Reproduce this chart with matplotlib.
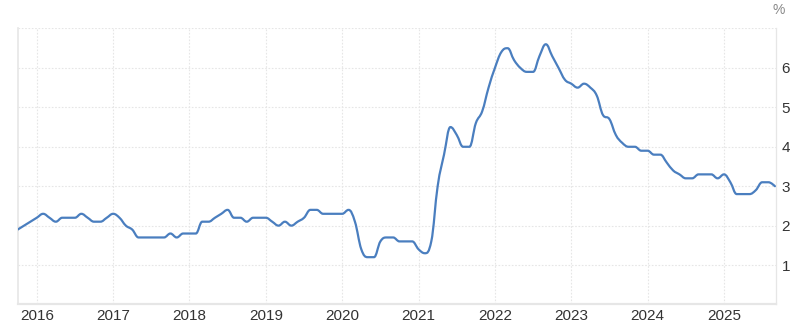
import matplotlib
matplotlib.use("Agg")
import matplotlib.pyplot as plt
from matplotlib.path import Path
from matplotlib.patches import PathPatch
import numpy as np

# Monthly values, Oct 2015 .. Sep 2025 (%)
start_year = 2015
start_month = 10
values = [
    1.9, 2.0, 2.1,                                              # 2015 Oct-Dec
    2.2, 2.3, 2.2, 2.1, 2.2, 2.2, 2.2, 2.3, 2.2, 2.1, 2.1, 2.2,  # 2016
    2.3, 2.2, 2.0, 1.9, 1.7, 1.7, 1.7, 1.7, 1.7, 1.8, 1.7, 1.8,  # 2017
    1.8, 1.8, 2.1, 2.1, 2.2, 2.3, 2.4, 2.2, 2.2, 2.1, 2.2, 2.2,  # 2018
    2.2, 2.1, 2.0, 2.1, 2.0, 2.1, 2.2, 2.4, 2.4, 2.3, 2.3, 2.3,  # 2019
    2.3, 2.4, 2.1, 1.4, 1.2, 1.2, 1.6, 1.7, 1.7, 1.6, 1.6, 1.6,  # 2020
    1.4, 1.3, 1.6, 3.0, 3.8, 4.5, 4.3, 4.0, 4.0, 4.6, 4.9, 5.5,  # 2021
    6.0, 6.4, 6.5, 6.2, 6.0, 5.9, 5.9, 6.3, 6.6, 6.3, 6.0, 5.7,  # 2022
    5.6, 5.5, 5.6, 5.5, 5.3, 4.8, 4.7, 4.3, 4.1, 4.0, 4.0, 3.9,  # 2023
    3.9, 3.8, 3.8, 3.6, 3.4, 3.3, 3.2, 3.2, 3.3, 3.3, 3.3, 3.2,  # 2024
    3.3, 3.1, 2.8, 2.8, 2.8, 2.9, 3.1, 3.1, 3.0,                 # 2025 Jan-Sep
]
year_ticks = [2016, 2017, 2018, 2019, 2020, 2021, 2022, 2023, 2024, 2025]
y_ticks = [1, 2, 3, 4, 5, 6]
unit_label = "%"

x = np.array([start_year + (start_month - 1 + i) / 12.0 for i in range(len(values))])
y = np.array(values, dtype=float)


def spline_path(xs, ys, smoothing=1.5):
    """Highcharts-style spline as cubic Bezier path in data coordinates."""
    n = len(xs)
    denom = smoothing + 1
    left = [(xs[i], ys[i]) for i in range(n)]
    right = [(xs[i], ys[i]) for i in range(n)]
    for i in range(1, n - 1):
        lx, ly = xs[i - 1], ys[i - 1]
        px, py = xs[i], ys[i]
        nx, ny = xs[i + 1], ys[i + 1]
        lcx = (smoothing * px + lx) / denom
        lcy = (smoothing * py + ly) / denom
        rcx = (smoothing * px + nx) / denom
        rcy = (smoothing * py + ny) / denom
        corr = 0.0
        if rcx != lcx:
            corr = (rcy - lcy) * (rcx - px) / (rcx - lcx) + py - rcy
        lcy += corr
        rcy += corr
        if lcy > ly and lcy > py:
            lcy = max(ly, py)
            rcy = 2 * py - lcy
        elif lcy < ly and lcy < py:
            lcy = min(ly, py)
            rcy = 2 * py - lcy
        if rcy > ny and rcy > py:
            rcy = max(ny, py)
            lcy = 2 * py - rcy
        elif rcy < ny and rcy < py:
            rcy = min(ny, py)
            lcy = 2 * py - rcy
        left[i] = (lcx, lcy)
        right[i] = (rcx, rcy)
    verts = [(xs[0], ys[0])]
    codes = [Path.MOVETO]
    for i in range(1, n):
        verts += [right[i - 1], left[i], (xs[i], ys[i])]
        codes += [Path.CURVE4, Path.CURVE4, Path.CURVE4]
    return Path(verts, codes)


plt.rcParams['font.family'] = ['Liberation Sans', 'DejaVu Sans']

fig = plt.figure(figsize=(8.0, 3.29), dpi=100)
ax = fig.add_axes([0.0221, 0.0745, 0.97 - 0.0221, 0.9134 - 0.0745])

line_color = '#4a7ebf'
patch = PathPatch(spline_path(x, y), facecolor='none', edgecolor=line_color,
                  linewidth=1.6, capstyle='round', joinstyle='round', zorder=3)
ax.add_patch(patch)

ax.set_xlim(2015.75, 2025.681)
ax.set_ylim(0, 7)

ax.set_xticks(year_ticks)
ax.set_xticklabels([str(t) for t in year_ticks])
ax.set_yticks(y_ticks + [7])
ax.set_yticklabels([str(t) for t in y_ticks] + [''])
ax.yaxis.tick_right()

ax.tick_params(axis='both', length=0, labelsize=11, labelcolor='#333333')
ax.tick_params(axis='x', pad=3)
ax.tick_params(axis='y', pad=4)

ax.grid(True, color='#e6e6e6', linestyle=(0, (1.5, 1.5)), linewidth=0.8, zorder=0)

ax.spines['top'].set_visible(False)
ax.spines['bottom'].set_color('#e6e6e6')
ax.spines['bottom'].set_linewidth(1.6)
ax.spines['left'].set_color('#e6e6e6')
ax.spines['left'].set_linewidth(1.2)
ax.spines['right'].set_color('#e6e6e6')
ax.spines['right'].set_linewidth(0.9)

fig.text(779 / 800, 1 - 10 / 329, unit_label, ha='center', va='center',
         fontsize=10, color='#888888')

fig.savefig('out.png', dpi=100, facecolor='white')
